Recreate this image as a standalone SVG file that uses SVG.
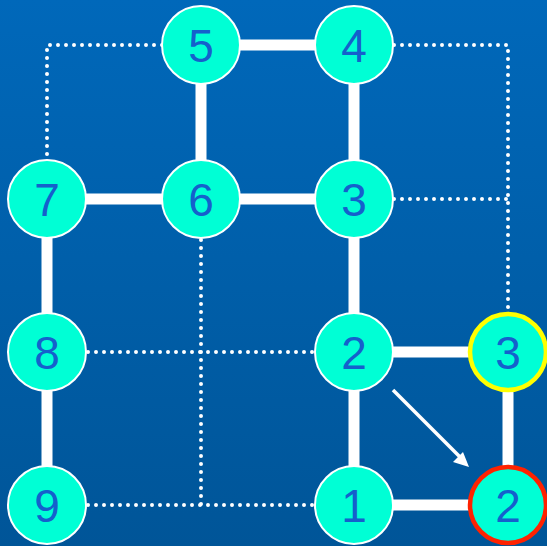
<svg xmlns="http://www.w3.org/2000/svg" width="547" height="546" viewBox="0 0 547 546">
<defs>
<linearGradient id="bg" x1="0" y1="0" x2="0" y2="1">
<stop offset="0" stop-color="#0068BA"/>
<stop offset="1" stop-color="#005598"/>
</linearGradient>
<style>
.solid{stroke:#fff;stroke-width:11;fill:none}
.dot{stroke:#fff;stroke-width:4;stroke-dasharray:0 8;stroke-linecap:round;fill:none}
.n circle{fill:#00FFD5;stroke:#fff;stroke-width:2}
.n text{font-family:"Liberation Sans",Arial,sans-serif;font-size:46px;fill:#1560CC;text-anchor:middle}
</style>
</defs>
<rect width="547" height="546" fill="url(#bg)"/>
<g id="connectors">
<path class="dot" d="M162,45 H47 V158"/>
<path class="dot" d="M394,45 H508 V312"/>
<path class="dot" d="M394,199 H508"/>
<path class="dot" d="M201,240 V505"/>
<path class="dot" d="M88,352 H314"/>
<path class="dot" d="M88,505 H314"/>
<line class="solid" x1="201" y1="45" x2="354" y2="45"/>
<line class="solid" x1="201" y1="45" x2="201" y2="199"/>
<line class="solid" x1="354" y1="45" x2="354" y2="199"/>
<line class="solid" x1="47" y1="199" x2="354" y2="199"/>
<line class="solid" x1="47" y1="199" x2="47" y2="505"/>
<line class="solid" x1="354" y1="199" x2="354" y2="505"/>
<line class="solid" x1="354" y1="352" x2="508" y2="352"/>
<line class="solid" x1="508" y1="352" x2="508" y2="505"/>
<line class="solid" x1="354" y1="505" x2="508" y2="505"/>
<line x1="393" y1="390" x2="462" y2="459" stroke="#fff" stroke-width="3.5"/>
<path d="M469,467 L453,462 L463,452 Z" fill="#fff"/>
</g>
<g id="n5" class="n"><circle cx="201" cy="45" r="39"/><text x="201" y="62">5</text></g>
<g id="n4" class="n"><circle cx="354" cy="45" r="39"/><text x="354" y="62">4</text></g>
<g id="n7" class="n"><circle cx="47" cy="199" r="39"/><text x="47" y="216">7</text></g>
<g id="n6" class="n"><circle cx="201" cy="199" r="39"/><text x="201" y="216">6</text></g>
<g id="n3a" class="n"><circle cx="354" cy="199" r="39"/><text x="354" y="216">3</text></g>
<g id="n8" class="n"><circle cx="47" cy="352" r="39"/><text x="47" y="369">8</text></g>
<g id="n2a" class="n"><circle cx="354" cy="352" r="39"/><text x="354" y="369">2</text></g>
<g id="n3b" class="n"><circle cx="508" cy="352" r="38" style="stroke:#FFFF00;stroke-width:4.5"/><text x="508" y="369">3</text></g>
<g id="n9" class="n"><circle cx="47" cy="505" r="39"/><text x="47" y="522">9</text></g>
<g id="n1" class="n"><circle cx="354" cy="505" r="39"/><text x="354" y="522">1</text></g>
<g id="n2b" class="n"><circle cx="508" cy="505" r="38" style="stroke:#FF2200;stroke-width:4.5"/><text x="508" y="522">2</text></g>
</svg>
